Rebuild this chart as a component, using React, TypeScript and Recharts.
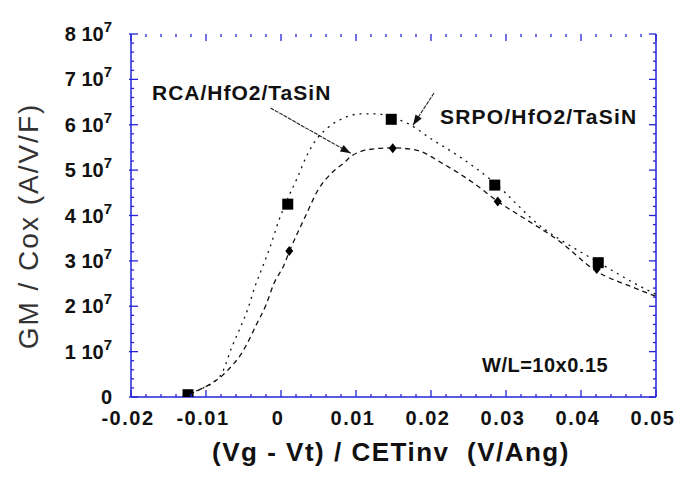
import React from 'react'
import { ScatterChart, Scatter, XAxis, YAxis, ReferenceLine } from 'recharts'

// GM/Cox values are in units of 1e7 A/V/F
const srpoX = [-0.0124, 0.0009, 0.0147, 0.0285, 0.0423]
const srpoY = [0.05, 4.25, 6.12, 4.67, 2.96]
const rcaX = [-0.0122, 0.0011, 0.0149, 0.0289, 0.0421]
const rcaY = [0.03, 3.22, 5.48, 4.31, 2.82]

// fitted curves
const srpoFitX = [-0.0122, -0.0105, -0.0092, -0.0078, -0.0066, -0.0054, -0.0044, -0.0035, -0.0024, -0.0016, -0.001, -0.0005, 0.0006, 0.0022, 0.0033, 0.0046, 0.0062, 0.0084, 0.0106, 0.0129, 0.0147, 0.017, 0.02, 0.0236, 0.0281, 0.0348, 0.0392, 0.0423, 0.0472, 0.05]
const srpoFitY = [0.08, 0.19, 0.3, 0.55, 1.08, 1.54, 1.95, 2.42, 2.89, 3.24, 3.53, 3.79, 4.26, 4.84, 5.27, 5.65, 5.93, 6.15, 6.24, 6.24, 6.16, 6.02, 5.69, 5.32, 4.77, 3.74, 3.27, 2.97, 2.5, 2.26]
const rcaFitX = [-0.0122, -0.0105, -0.0092, -0.0079, -0.0065, -0.0055, -0.0046, -0.0033, -0.002, -0.001, 0.0004, 0.0011, 0.0033, 0.0049, 0.0071, 0.0084, 0.0093, 0.012, 0.0147, 0.017, 0.0183, 0.0214, 0.0258, 0.0289, 0.0325, 0.037, 0.0419, 0.0472, 0.05]
const rcaFitY = [0.06, 0.19, 0.31, 0.46, 0.7, 0.9, 1.15, 1.59, 2.03, 2.48, 2.91, 3.2, 4.0, 4.55, 4.99, 5.16, 5.3, 5.46, 5.49, 5.47, 5.43, 5.16, 4.7, 4.31, 3.93, 3.45, 2.79, 2.4, 2.22]

const xMajorTicks = [-0.02, -0.01, 0, 0.01, 0.02, 0.03, 0.04, 0.05]
const xTickLabels = ['-0.02', '-0.01', '0', '0.01', '0.02', '0.03', '0.04', '0.05']
const yMajorTicks = [0, 1, 2, 3, 4, 5, 6, 7, 8]

const xMinorTicks = Array.from({ length: 36 }, (_, i) => Math.round((-0.02 + i * 0.002) * 1000) / 1000)
const yMinorTicks = Array.from({ length: 41 }, (_, i) => Math.round(i * 0.2 * 10) / 10)

const toPoints = (xs: number[], ys: number[]) => xs.map((x, i) => ({ x, y: ys[i] }))
const srpoData = toPoints(srpoX, srpoY)
const rcaData = toPoints(rcaX, rcaY)
const srpoFit = toPoints(srpoFitX, srpoFitY)
const rcaFit = toPoints(rcaFitX, rcaFitY)

const FONT = '"Liberation Sans", Arial, sans-serif'
const AXIS = '#2424d8'
const MAJOR = 7
const MINOR = 3

// plot frame (chart margins + axis sizes below)
const PL = 131
const PR = 656
const PT = 34
const PB = 397
const X0 = -0.02
const X1 = 0.05
const Y1 = 8
const sx = (v: number) => PL + ((v - X0) / (X1 - X0)) * (PR - PL)
const sy = (v: number) => PB - (v / Y1) * (PB - PT)
const near = (list: number[], v: number) => list.some(t => Math.abs(t - v) < 1e-6)

const Empty = () => <g />

const BottomTick = (props: any) => {
  const { x, y, payload } = props
  const idx = xMajorTicks.findIndex(t => Math.abs(t - payload.value) < 1e-6)
  return (
    <text x={x - 3} y={y + 28} textAnchor="middle" fontFamily={FONT} fontWeight="bold" fontSize={20} letterSpacing={1.5} fill="#111">
      {xTickLabels[idx]}
    </text>
  )
}

const LeftTick = (props: any) => {
  const { x, y, payload } = props
  const v = payload.value
  return (
    <text x={x - 19} y={y + 7} textAnchor="end" fontFamily={FONT} fontWeight="bold" fontSize={20} fill="#111">
      {v === 0 ? (
        '0'
      ) : (
        <>
          <tspan>{`${v} 10`}</tspan>
          <tspan dy={-9} fontSize={15}>7</tspan>
        </>
      )}
    </text>
  )
}

const RightTick = (props: any) => {
  const { x, y, payload } = props
  if (payload.value !== 0) return <g />
  return (
    <text x={x + 14} y={y + 7} fontFamily={FONT} fontWeight="bold" fontSize={20} fill="#111">0</text>
  )
}

const Square = (p: any) => <rect x={p.cx - 5.5} y={p.cy - 5.5} width={11} height={11} fill="#000" />
const Diamond = (p: any) => (
  <polygon points={`${p.cx},${p.cy - 5} ${p.cx + 4},${p.cy} ${p.cx},${p.cy + 5} ${p.cx - 4},${p.cy}`} fill="#000" />
)

const Arrow = (props: any) => {
  const { x1, y1, x2, y2 } = props
  const a = Math.atan2(y2 - y1, x2 - x1)
  const len = 11
  const w = 0.35
  const p1 = `${x2 - len * Math.cos(a - w)},${y2 - len * Math.sin(a - w)}`
  const p2 = `${x2 - len * Math.cos(a + w)},${y2 - len * Math.sin(a + w)}`
  return (
    <g>
      <line x1={x1} y1={y1} x2={x2} y2={y2} stroke="#222" strokeWidth={1.1} strokeDasharray="4 1" />
      <polygon points={`${x2},${y2} ${p1} ${p2}`} fill="#111" />
    </g>
  )
}

// inward tick marks on all four sides of the frame
const FrameTicks = () => {
  const marks: React.ReactNode[] = []
  xMinorTicks.forEach((v, i) => {
    const len = near(xMajorTicks, v) ? MAJOR : MINOR
    const x = sx(v)
    marks.push(<line key={`b${i}`} x1={x} y1={PB} x2={x} y2={PB - len} />)
    marks.push(<line key={`t${i}`} x1={x} y1={PT} x2={x} y2={PT + len} />)
  })
  yMinorTicks.forEach((v, i) => {
    const major = near(yMajorTicks, v)
    const len = major ? MAJOR : MINOR
    const y = sy(v)
    marks.push(<line key={`l${i}`} x1={PL - (major ? 2 : 0)} y1={y} x2={PL + len} y2={y} />)
    marks.push(<line key={`r${i}`} x1={PR} y1={y} x2={PR - len} y2={y} />)
  })
  return <g stroke={AXIS} strokeWidth={1.3}>{marks}</g>
}

const axisStroke = { stroke: AXIS, strokeWidth: 1.5 }

export default function App() {
  return (
    <div style={{ position: 'absolute', left: 0, top: 0, width: 681, height: 478, background: '#fff' }}>
      <ScatterChart width={681} height={478} margin={{ top: PT, right: 0, bottom: 0, left: 0 }}>
        <XAxis
          xAxisId="b"
          dataKey="x"
          type="number"
          domain={[X0, X1]}
          ticks={xMajorTicks}
          interval={0}
          height={478 - PB}
          tickSize={0}
          tickMargin={0}
          tickLine={false}
          axisLine={axisStroke}
          tick={<BottomTick />}
          allowDataOverflow
        />
        <XAxis
          xAxisId="t"
          orientation="top"
          type="number"
          domain={[X0, X1]}
          ticks={xMajorTicks}
          height={0}
          tickLine={false}
          axisLine={axisStroke}
          tick={<Empty />}
        />
        <YAxis
          yAxisId="l"
          dataKey="y"
          type="number"
          domain={[0, Y1]}
          ticks={yMajorTicks}
          interval={0}
          width={PL}
          tickSize={0}
          tickMargin={0}
          tickLine={false}
          axisLine={axisStroke}
          tick={<LeftTick />}
          allowDataOverflow
        />
        <YAxis
          yAxisId="r"
          orientation="right"
          type="number"
          domain={[0, Y1]}
          ticks={yMajorTicks}
          interval={0}
          width={681 - PR}
          tickSize={0}
          tickMargin={0}
          tickLine={false}
          axisLine={axisStroke}
          tick={<RightTick />}
        />
        <Scatter
          xAxisId="b"
          yAxisId="l"
          data={srpoFit}
          line={{ stroke: '#111', strokeWidth: 1.3, strokeDasharray: '2 5' }}
          lineJointType="monotoneX"
          shape={<Empty />}
          isAnimationActive={false}
        />
        <Scatter
          xAxisId="b"
          yAxisId="l"
          data={rcaFit}
          line={{ stroke: '#111', strokeWidth: 1.3, strokeDasharray: '5 4' }}
          lineJointType="monotoneX"
          shape={<Empty />}
          isAnimationActive={false}
        />
        <Scatter xAxisId="b" yAxisId="l" data={srpoData} shape={<Square />} isAnimationActive={false} />
        <Scatter xAxisId="b" yAxisId="l" data={rcaData} shape={<Diamond />} isAnimationActive={false} />
        <ReferenceLine
          xAxisId="b"
          yAxisId="l"
          segment={[{ x: -0.0014, y: 6.37 }, { x: 0.0093, y: 5.37 }]}
          shape={(p: any) => <Arrow {...p} />}
          ifOverflow="visible"
        />
        <ReferenceLine
          xAxisId="b"
          yAxisId="l"
          segment={[{ x: 0.0204, y: 6.7 }, { x: 0.0176, y: 5.99 }]}
          shape={(p: any) => <Arrow {...p} />}
          ifOverflow="visible"
        />
      </ScatterChart>
      <svg width={681} height={478} style={{ position: 'absolute', left: 0, top: 0, pointerEvents: 'none' }}>
        <FrameTicks />
        <text x={152} y={100} fontFamily={FONT} fontWeight="bold" fontSize={21} letterSpacing={1} fill="#111">RCA/HfO2/TaSiN</text>
        <text x={440} y={124} fontFamily={FONT} fontWeight="bold" fontSize={21} letterSpacing={1.2} fill="#111">SRPO/HfO2/TaSiN</text>
        <text x={482} y={372} fontFamily={FONT} fontWeight="bold" fontSize={20} letterSpacing={0.5} fill="#111">W/L=10x0.15</text>
        <text x={391} y={461} textAnchor="middle" fontFamily={FONT} fontWeight="bold" fontSize={26} letterSpacing={1.5} fill="#111" style={{ whiteSpace: 'pre' }}>
          {'(Vg - Vt) / CETinv  (V/Ang)'}
        </text>
        <text
          x={38}
          y={226}
          transform="rotate(-90 38 226)"
          textAnchor="middle"
          fontFamily={FONT}
          fontSize={28}
          letterSpacing={2}
          fill="#333"
        >
          GM / Cox (A/V/F)
        </text>
      </svg>
    </div>
  )
}
